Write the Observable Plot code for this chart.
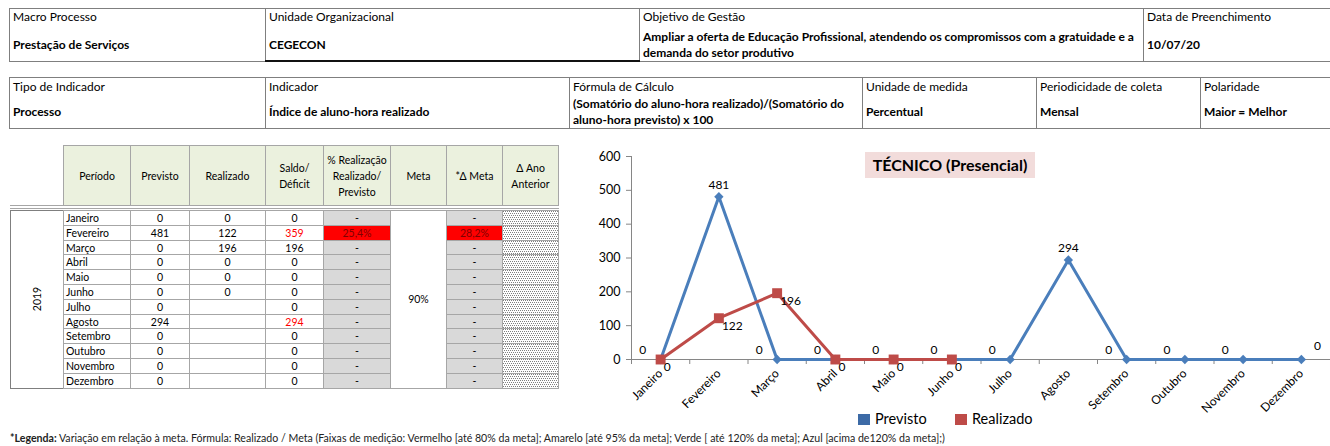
<!DOCTYPE html>
<html><head><meta charset="utf-8">
<script src="https://cdn.jsdelivr.net/npm/d3@7"></script>
<script src="https://cdn.jsdelivr.net/npm/@observablehq/plot@0.6"></script>
<style>
html,body{margin:0;padding:0;background:#fff;width:1330px;height:446px;overflow:hidden;font-family:Lato,"Open Sans",sans-serif;color:#000;}
.abs{position:absolute;box-sizing:border-box;}
.hc{border:1px solid #7f7f7f;}
.lbl{position:absolute;left:3px;font-size:12px;line-height:14px;white-space:nowrap;}
.val{position:absolute;left:3px;font-size:12px;font-weight:bold;line-height:16px;white-space:nowrap;transform:translateY(-50%);}
.tc{border:1px solid #a6a6a6;font-size:10.5px;display:flex;align-items:center;justify-content:center;text-align:center;line-height:16px;white-space:nowrap;}
#chart{position:absolute;left:560px;top:145px;}
#chart svg{overflow:visible;}
</style></head><body>
<div id="root"></div>
<div id="chart"></div>
<script>
// ---------- data ----------
const months = ["Janeiro","Fevereiro","Março","Abril","Maio","Junho","Julho","Agosto","Setembro","Outubro","Novembro","Dezembro"];
const previsto = [0,481,0,0,0,0,0,294,0,0,0,0];
const realizado = [0,122,196,0,0,0,null,null,null,null,null,null];
const saldo = [0,359,196,0,0,0,0,294,0,0,0,0];
const saldoAlerta = [false,true,false,false,false,false,false,true,false,false,false,false];
const pctRealizacao = [null,25.4,null,null,null,null,null,null,null,null,null,null];
const deltaMeta = [null,28.2,null,null,null,null,null,null,null,null,null,null];
const metaValor = "90%";
const ano = "2019";
const yTicks = [0,100,200,300,400,500,600];
const tableHeaders = ["Período","Previsto","Realizado","Saldo/<br>Déficit","% Realização<br>Realizado/<br>Previsto","Meta","*Δ Meta","Δ Ano<br>Anterior"];
const info1Labels = ["Macro Processo","Unidade Organizacional","Objetivo de Gestão","Data de Preenchimento"];
const info1Values = [["Prestação de Serviços"],["CEGECON"],["Ampliar a oferta de Educação Profissional, atendendo os compromissos com a gratuidade e a","demanda do setor produtivo"],["10/07/20"]];
const info2Labels = ["Tipo de Indicador","Indicador","Fórmula  de Cálculo","Unidade de medida","Periodicidade de coleta","Polaridade"];
const info2Values = [["Processo"],["Índice de aluno-hora realizado"],["(Somatório do aluno-hora realizado)/(Somatório do","aluno-hora previsto) x 100"],["Percentual"],["Mensal"],["Maior = Melhor"]];
const chartTitle = "TÉCNICO (Presencial)";
const seriesNames = ["Previsto","Realizado"];
const footBold = "*Legenda:";
const footText = " Variação em relação à meta. Fórmula: Realizado / Meta (Faixas de medição: Vermelho [até 80% da meta]; Amarelo [até 95% da meta]; Verde [ até 120% da meta]; Azul [acima de120% da meta];)";

// ---------- layout helpers ----------
const root = document.getElementById("root");
function div(cls, x, y, w, h, html, style) {
  const d = document.createElement("div");
  d.className = "abs " + (cls || "");
  d.style.left = x + "px"; d.style.top = y + "px";
  if (w != null) d.style.width = w + "px";
  if (h != null) d.style.height = h + "px";
  if (html != null) d.innerHTML = html;
  if (style) Object.assign(d.style, style);
  root.appendChild(d);
  return d;
}
function infoTable(xs, top, h, labels, values, labelTop, valueCenter) {
  labels.forEach((lab, i) => {
    const c = div("hc", xs[i], top, xs[i + 1] - xs[i] + 1, h);
    const l = document.createElement("div"); l.className = "lbl"; l.style.top = (labelTop - 1) + "px"; l.textContent = lab; c.appendChild(l);
    const v = document.createElement("div"); v.className = "val"; v.style.top = (valueCenter - 1) + "px"; v.innerHTML = values[i].join("<br>"); c.appendChild(v);
  });
}
infoTable([9, 265, 639, 1143, 1332], 8, 54, info1Labels, info1Values, 2, 37);
div("", 265, 60, 375, 2, null, {background: "#111"});
infoTable([9, 265, 569, 862, 1036, 1200, 1332], 77, 52, info2Labels, info2Values, 3, 35);

// ---------- data table ----------
const cx = [10, 63, 130, 189, 265, 323, 390, 446, 502, 558];
const hTop = 145, hBot = 205, dTop = 210, rh = 14.8;
tableHeaders.forEach((t, j) => {
  div("tc", cx[j + 1], hTop, cx[j + 2] - cx[j + 1] + 1, hBot - hTop + 1, t, {background: "#ebf1de"});
});
div("", cx[0], hBot, cx[cx.length - 1] - cx[0] + 1, 1, null, {background: "#a6a6a6"});
div("", cx[0], hBot + 3, cx[cx.length - 1] - cx[0] + 1, 1, null, {background: "#a6a6a6"});
const dBot = dTop + rh * months.length;
div("tc", cx[0], dTop, cx[1] - cx[0] + 1, dBot - dTop + 1, `<span style="display:inline-block;transform:rotate(-90deg)">${ano}</span>`, {borderColor: "#7f7f7f"});
const fmtPct = v => v.toFixed(1).replace(".", ",") + "%";
const stipple = "url(\"data:image/svg+xml;utf8,<svg xmlns='http://www.w3.org/2000/svg' width='4' height='4' shape-rendering='crispEdges'><rect width='4' height='4' fill='white'/><rect x='0' y='0' width='1' height='1' fill='%23808080'/><rect x='2' y='0' width='1' height='1' fill='%23808080'/><rect x='1' y='2' width='1' height='1' fill='%23808080'/><rect x='3' y='2' width='1' height='1' fill='%23808080'/></svg>\")";
months.forEach((m, i) => {
  const y = dTop + i * rh, h = rh + 1;
  div("tc", cx[1], y, cx[2] - cx[1] + 1, h, m, {justifyContent: "flex-start", paddingLeft: "2px"});
  div("tc", cx[2], y, cx[3] - cx[2] + 1, h, String(previsto[i]));
  div("tc", cx[3], y, cx[4] - cx[3] + 1, h, realizado[i] == null ? "" : String(realizado[i]));
  div("tc", cx[4], y, cx[5] - cx[4] + 1, h, String(saldo[i]), {color: saldoAlerta[i] ? "#ff0000" : "#000"});
  const p = pctRealizacao[i];
  div("tc", cx[5], y, cx[6] - cx[5] + 1, h, p == null ? "-" : fmtPct(p), {background: p == null ? "#d9d9d9" : "#ff0000", color: p == null ? "#000" : "#800000"});
  const dm = deltaMeta[i];
  div("tc", cx[7], y, cx[8] - cx[7] + 1, h, dm == null ? "-" : fmtPct(dm), {background: dm == null ? "#d9d9d9" : "#ff0000", color: dm == null ? "#000" : "#800000"});
  div("tc", cx[8], y, cx[9] - cx[8] + 1, h, "", {backgroundImage: stipple});
});
div("tc", cx[6], dTop, cx[7] - cx[6] + 1, dBot - dTop + 1, metaValor, {background: "#fff"});

// ---------- chart title, legend, footnote ----------
div("", 865, 152, 170, 26, chartTitle, {background: "#f2dcdb", fontWeight: "bold", fontSize: "16px", lineHeight: "26px", textAlign: "center", whiteSpace: "nowrap"});
const blue = "#4a7ebb", red = "#be4b48";
div("", 858, 414, 12, 11, null, {background: "#3c6aa6"});
div("", 875, 410, 80, 18, seriesNames[0], {fontSize: "14.5px", lineHeight: "18px"});
div("", 955, 414, 12, 11, null, {background: red});
div("", 972, 410, 80, 18, seriesNames[1], {fontSize: "14.5px", lineHeight: "18px"});
div("", 10, 432, 1000, 12, `<b>${footBold}</b>${footText}`, {fontSize: "10.6px", lineHeight: "12px", whiteSpace: "nowrap", color: "#222"});

// ---------- Plot chart ----------
const prevData = months.map((m, i) => ({i, v: previsto[i]}));
const realData = months.map((m, i) => ({i, v: realizado[i]})).filter(d => d.v != null);
const last = months.length - 1;
const chart = Plot.plot({
  width: 770, height: 270,
  marginLeft: 71, marginRight: 0, marginTop: 11, marginBottom: 56,
  x: {domain: [-0.5, months.length - 0.5], label: null},
  y: {domain: [0, 600], label: null},
  style: {fontFamily: "Lato, sans-serif", fontSize: "12px", color: "#000", background: "transparent"},
  marks: [
    Plot.frame({anchor: "left", stroke: "#868686"}),
    Plot.axisY({ticks: yTicks, tickSize: 5, tickPadding: 6, stroke: "#868686", fill: "#000", fontSize: 12.5}),
    Plot.ruleY([0], {stroke: "#868686"}),
    Plot.axisX({ticks: d3.range(months.length + 1).map(k => k - 0.5), tickSize: 5, tickFormat: () => "", stroke: "#868686"}),
    Plot.axisX({ticks: d3.range(months.length), tickSize: 0, tickPadding: 12, tickRotate: -45, tickFormat: i => months[i], fill: "#000", fontSize: 12, dx: 0}),
    Plot.line(prevData, {x: "i", y: "v", stroke: blue, strokeWidth: 3}),
    Plot.dot(prevData, {x: "i", y: "v", symbol: "diamond2", fill: blue, stroke: null, r: 4.2}),
    Plot.line(realData, {x: "i", y: "v", stroke: red, strokeWidth: 3}),
    Plot.dot(realData, {x: "i", y: "v", symbol: "square", fill: red, stroke: null, r: 5.6}),
    Plot.text(prevData.filter(d => d.v !== 0), {x: "i", y: "v", text: "v", dy: -12, fontSize: 12}),
    Plot.text(prevData.filter(d => d.v === 0 && d.i !== last), {x: "i", y: "v", text: "v", dx: -18, dy: -9, fontSize: 12}),
    Plot.text(prevData.filter(d => d.v === 0 && d.i === last), {x: "i", y: "v", text: "v", dx: 16, dy: -13, fontSize: 12}),
    Plot.text(realData, {x: "i", y: "v", text: "v", textAnchor: "start", dx: 3, dy: 8, fontSize: 12})
  ]
});
document.getElementById("chart").appendChild(chart);
</script>
</body></html>
